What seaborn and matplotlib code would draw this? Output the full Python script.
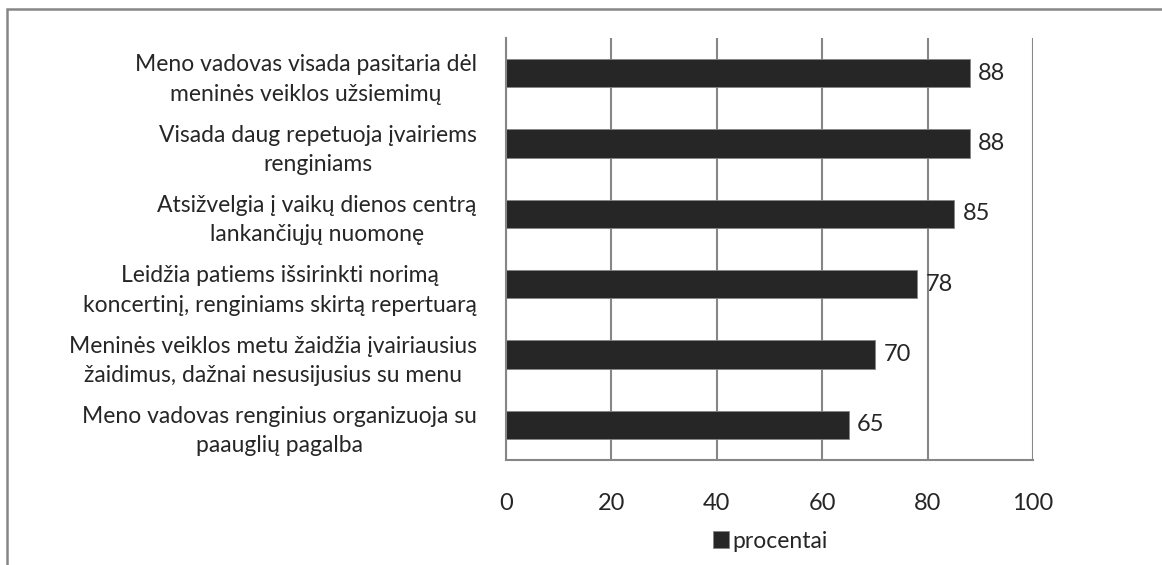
import pandas as pd
import matplotlib
matplotlib.use("Agg")
import matplotlib.pyplot as plt
import seaborn as sns
from matplotlib.patches import Rectangle, Patch

# data
labels = [
    "Meno vadovas visada pasitaria dėl\nmeninės veiklos užsiemimų",
    "Visada daug repetuoja įvairiems\nrenginiams",
    "Atsižvelgia į vaikų dienos centrą\nlankančiųjų nuomonę",
    "Leidžia patiems išsirinkti norimą\nkoncertinį, renginiams skirtą repertuarą",
    "Meninės veiklos metu žaidžia įvairiausius\nžaidimus, dažnai nesusijusius su menu",
    "Meno vadovas renginius organizuoja su\npaauglių pagalba",
]
values = [88, 88, 85, 78, 70, 65]
x_ticks = [0, 20, 40, 60, 80, 100]
series_name = "procentai"

df = pd.DataFrame({"label": labels, "value": values})

sns.set_style("white")
plt.rcParams["font.family"] = ["Lato", "DejaVu Sans"]

grey = "#868686"
bar_col = "#262626"
fs = 16.5

fig = plt.figure(figsize=(11.62, 5.65), dpi=100)
ax = fig.add_axes([506 / 1162, 1 - 460 / 565, (1033 - 506) / 1162, (460 - 38) / 565])

sns.barplot(data=df, y="label", x="value", orient="h", color=bar_col,
            width=0.4, edgecolor=grey, linewidth=0.6, saturation=1, ax=ax)

ax.set_xlim(0, 100)
ax.set_ylim(len(labels) - 0.5, -0.5)
ax.set_xticks(x_ticks)
ax.set_xticklabels([str(t) for t in x_ticks], fontsize=17)
ax.xaxis.grid(True, color=grey, linewidth=1.5)
ax.set_axisbelow(True)
ax.set_xlabel("")
ax.set_ylabel("")

# category boundary ticks on the y axis
ax.set_yticks([i - 0.5 for i in range(len(labels) + 1)], minor=False)
ax.set_yticklabels([])
ax.set_yticks(range(len(labels)), minor=True)
ax.set_yticklabels(labels, minor=True, fontsize=fs, linespacing=1.5,
                   ha="right", multialignment="center")
ax.tick_params(axis="y", which="minor", length=0, pad=21)
ax.tick_params(axis="y", which="major", length=8, width=1.5, color=grey, direction="out")
ax.tick_params(axis="x", length=8, width=1.5, color=grey, direction="out", pad=16)

for s in ["top", "right"]:
    ax.spines[s].set_visible(False)
for s in ["left", "bottom"]:
    ax.spines[s].set_color(grey)
    ax.spines[s].set_linewidth(1.5)

for i, v in enumerate(values):
    ax.text(v + 1.6, i, str(v), va="center", ha="left", fontsize=17)

handle = Patch(facecolor=bar_col, edgecolor=grey, linewidth=0.6)
fig.legend([handle], [series_name], loc="center", bbox_to_anchor=(770 / 1162, 1 - 541 / 565),
           frameon=False, fontsize=fs, handlelength=0.7, handleheight=0.7,
           handletextpad=0.15)

# outer chart frame (partly cropped in the reference)
fig.add_artist(Rectangle((7 / 1162, -0.1), 1.2, 1.1 - 9 / 565, transform=fig.transFigure,
                         fill=False, edgecolor=grey, linewidth=1.8))

fig.savefig("out.png", dpi=100, facecolor="white")
